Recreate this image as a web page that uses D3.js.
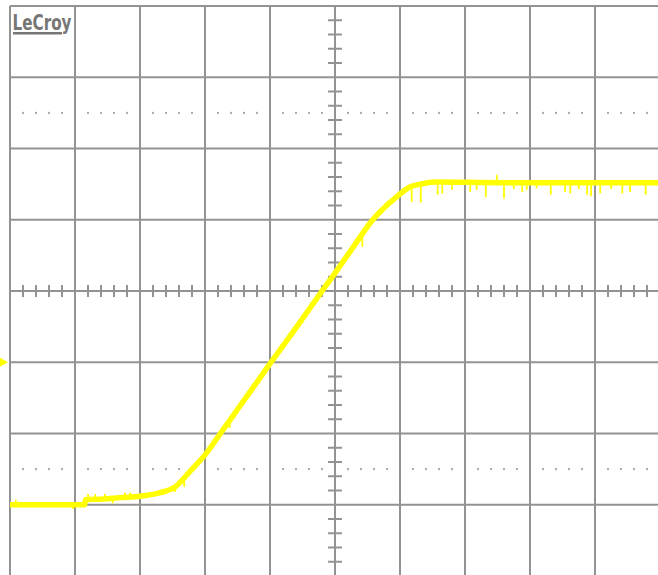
<!DOCTYPE html>
<html>
<head>
<meta charset="utf-8">
<script src="https://cdn.jsdelivr.net/npm/d3@7/dist/d3.min.js"></script>
<style>
  html, body { margin: 0; padding: 0; background: #ffffff; }
  svg { display: block; }
</style>
</head>
<body>
<div id="chart"></div>
<script>
// ---- Data (time and voltage in screen divisions, centre = 0) ----
const traceTime = [-5.0, -3.85, -3.84, -3.57, -3.31, -3.0, -2.69, -2.46, -2.23, -2.0, -1.77, -1.46, -1.2, -1.0, -0.8, -0.54, -0.23, 0.0, 0.23, 0.38, 0.58, 0.77, 0.92, 1.0, 1.15, 1.31, 1.54, 2.54, 4.97];
const traceVolt = [-3.0, -3.0, -2.93, -2.92, -2.9, -2.88, -2.83, -2.75, -2.53, -2.3, -2.01, -1.61, -1.28, -1.02, -0.77, -0.44, -0.04, 0.25, 0.55, 0.75, 1.0, 1.18, 1.3, 1.36, 1.46, 1.5, 1.53, 1.52, 1.52];

// noise spikes: time and the voltage the spike reaches
const spikeTime = [1.18, 1.32, 1.58, 1.65, 1.8, 2.08, 2.18, 2.32, 2.6, 2.75, 2.88, 2.95, 3.1, 3.32, 3.54, 3.62, 3.75, 3.88, 3.94, 4.08, 4.25, 4.42, 4.54, 4.78, 2.49, -4.91, -4.03, -3.8, -3.69, -3.54, -3.42, -3.23, -3.15, -2.46, -2.32, 0.42, -1.62];
const spikeVolt = [1.25, 1.24, 1.35, 1.37, 1.42, 1.39, 1.42, 1.32, 1.3, 1.43, 1.39, 1.42, 1.44, 1.35, 1.39, 1.37, 1.43, 1.35, 1.33, 1.37, 1.43, 1.37, 1.39, 1.35, 1.63, -2.93, -3.06, -2.85, -2.85, -2.85, -2.98, -2.83, -2.83, -2.82, -2.75, 0.62, -1.92];

const groundLevel = -1;           // channel ground marker (divisions)
const dotRows = [2.5, -2.5];      // dotted graticule rows
const xDivs = d3.range(-5, 6);    // vertical graticule lines
const yDivs = d3.range(-4, 5);    // horizontal graticule lines
const logoText = "LeCroy";

// ---- Layout ----
const W = 658, H = 575;
const x = d3.scaleLinear().domain([-5, 5]).range([10, 660]);
const y = d3.scaleLinear().domain([-4, 4]).range([576, 6]);

const svg = d3.select("#chart").append("svg")
  .attr("width", W).attr("height", H);

const gridColor = "#939393";

// graticule lines
svg.append("g").selectAll("line").data(xDivs).join("line")
  .attr("x1", d => x(d)).attr("x2", d => x(d))
  .attr("y1", y(4)).attr("y2", y(-4))
  .attr("stroke", gridColor).attr("stroke-width", 2);
svg.append("g").selectAll("line").data(yDivs).join("line")
  .attr("y1", d => y(d)).attr("y2", d => y(d))
  .attr("x1", x(-5)).attr("x2", x(5))
  .attr("stroke", gridColor).attr("stroke-width", 2);

// minor ticks on centre axes
const xMinor = d3.range(-50, 51).map(d => d / 10).filter(d => (Math.round(d * 10) % 2 === 0) && Math.abs(d - Math.round(d)) > 1e-6);
const yMinor = d3.range(-40, 41).map(d => d / 10).filter(d => (Math.round(d * 10) % 2 === 0) && Math.abs(d - Math.round(d)) > 1e-6);

svg.append("g").selectAll("line").data(xMinor).join("line")
  .attr("x1", d => x(d)).attr("x2", d => x(d))
  .attr("y1", y(0) - 6).attr("y2", y(0) + 6)
  .attr("stroke", gridColor).attr("stroke-width", 2);
svg.append("g").selectAll("line").data(yMinor).join("line")
  .attr("y1", d => y(d)).attr("y2", d => y(d))
  .attr("x1", x(0) - 7).attr("x2", x(0) + 7)
  .attr("stroke", gridColor).attr("stroke-width", 2);

// dotted rows
const dots = [];
dotRows.forEach(r => xMinor.forEach(t => dots.push([t, r])));
svg.append("g").selectAll("rect").data(dots).join("rect")
  .attr("x", d => x(d[0]) - 1).attr("y", d => y(d[1]) - 1)
  .attr("width", 2).attr("height", 2)
  .attr("fill", "#a8a8a8");

// logo
const logo = svg.append("g");
logo.append("text")
  .attr("x", 12.5).attr("y", 29.5)
  .attr("font-family", "'DejaVu Sans Condensed', 'DejaVu Sans', sans-serif")
  .attr("font-weight", "bold")
  .attr("font-size", 22)
  .attr("textLength", 59).attr("lengthAdjust", "spacingAndGlyphs")
  .attr("fill", "#767676")
  .text(logoText);
logo.append("rect")
  .attr("x", 13).attr("y", 32).attr("width", 49).attr("height", 2.5)
  .attr("fill", "#767676");

// trace
const yellow = "#ffff00";
const pts = traceTime.map((t, i) => [t, traceVolt[i]]);
const line = d3.line().x(d => x(d[0])).y(d => y(d[1])).curve(d3.curveMonotoneX);
svg.append("path")
  .datum(pts)
  .attr("d", line)
  .attr("fill", "none")
  .attr("stroke", yellow)
  .attr("stroke-width", 5.5)
  .attr("stroke-linejoin", "round");

// spikes (start on trace, end at listed voltage)
function traceAt(t) {
  for (let i = 1; i < traceTime.length; i++) {
    if (t <= traceTime[i]) {
      const t0 = traceTime[i - 1], t1 = traceTime[i];
      const f = (t - t0) / (t1 - t0);
      return traceVolt[i - 1] + f * (traceVolt[i] - traceVolt[i - 1]);
    }
  }
  return traceVolt[traceVolt.length - 1];
}
svg.append("g").selectAll("line").data(spikeTime.map((t, i) => [t, spikeVolt[i]])).join("line")
  .attr("x1", d => x(d[0])).attr("x2", d => x(d[0]))
  .attr("y1", d => y(traceAt(d[0]))).attr("y2", d => y(d[1]))
  .attr("stroke", yellow).attr("stroke-width", 1.8);

// ground marker
const gy = y(groundLevel);
svg.append("path")
  .attr("d", d3.line()([[0, gy - 4.5], [8, gy], [0, gy + 4.5]]) + "Z")
  .attr("fill", yellow);
</script>
</body>
</html>
